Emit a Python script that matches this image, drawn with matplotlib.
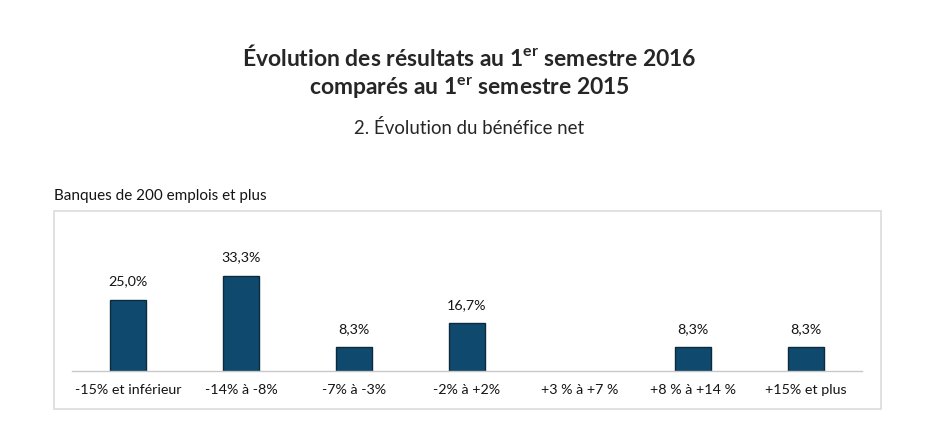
import matplotlib
matplotlib.use("Agg")
import matplotlib.pyplot as plt
from matplotlib.patches import Rectangle

categories = ["-15% et inférieur", "-14% à -8%", "-7% à -3%", "-2% à +2%",
              "+3 % à +7 %", "+8 % à +14 %", "+15% et plus"]
values = [25.0, 33.3, 8.3, 16.7, 0.0, 8.3, 8.3]

plt.rcParams['font.family'] = ['Lato', 'DejaVu Sans']
plt.rcParams['mathtext.fontset'] = 'custom'
plt.rcParams['mathtext.rm'] = 'Lato'
plt.rcParams['mathtext.bf'] = 'Lato:bold'

W, H = 938, 428
fig = plt.figure(figsize=(W / 100, H / 100), dpi=100)

def fx(px):
    return px / W

def fy(py):
    return 1 - py / H

txt = '#141414'

# titres
fig.text(0.5, fy(57), r"Évolution des résultats au 1$^{\mathbf{er}}$ semestre 2016",
         ha='center', va='center', fontsize=16.5, fontweight='bold', color='#262626')
fig.text(0.5, fy(88), r"comparés au 1$^{\mathbf{er}}$ semestre 2015",
         ha='center', va='center', fontsize=16.5, fontweight='bold', color='#262626')
fig.text(0.5, fy(128), "2. Évolution du bénéfice net",
         ha='center', va='center', fontsize=13.4, color='#262626')
fig.text(fx(54), fy(196), "Banques de 200 emplois et plus",
         ha='left', va='center', fontsize=11, color=txt)

# cadre
fig.patches.append(Rectangle((fx(54), fy(409)), fx(881) - fx(54), fy(211) - fy(409),
                             transform=fig.transFigure, fill=False,
                             edgecolor='#dcdcdc', linewidth=1.2))

ax = fig.add_axes([fx(72), fy(371), fx(862) - fx(72), fy(220) - fy(371)])
x = range(len(categories))
lw = [1 if v > 0 else 0 for v in values]
bars = ax.bar(x, values, width=0.32, color='#0f4a6e', edgecolor='#0b2a3d', linewidth=lw)
ax.set_xlim(-0.5, len(categories) - 0.5)
ax.set_ylim(0, 151 / 2.85)

for xi, v in zip(x, values):
    if v > 0:
        ax.annotate(f"{v:.1f}%".replace('.', ','), (xi, v), xytext=(0, 9),
                    textcoords='offset points', ha='center', va='bottom',
                    fontsize=10.3, color=txt)

ax.set_xticks(list(x))
ax.set_xticklabels(categories, fontsize=10.3, color=txt)
ax.tick_params(axis='x', length=0, pad=9)
ax.set_yticks([])
for s in ['top', 'right', 'left']:
    ax.spines[s].set_visible(False)
ax.spines['bottom'].set_color('#c8c8c8')
ax.spines['bottom'].set_linewidth(1)
ax.patch.set_alpha(0)

fig.savefig("out.png", dpi=100)
